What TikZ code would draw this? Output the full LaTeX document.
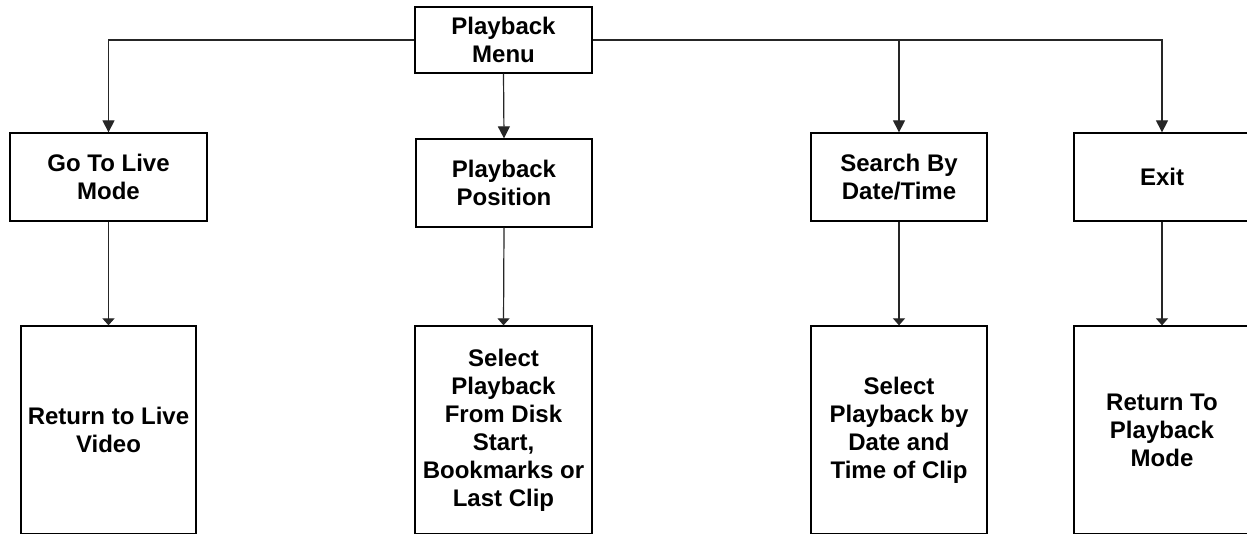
\documentclass[tikz,border=0pt]{standalone}
\usepackage{fontspec}
\setmainfont{Liberation Sans}
\usetikzlibrary{arrows.meta}
\begin{document}
\begin{tikzpicture}[x=1pt,y=-1pt,
  box/.style={draw=black, line width=1.3pt, inner sep=0pt, align=center,
    font=\bfseries\fontsize{24}{28}\selectfont},
  midbox/.style={box, minimum height=88pt},
  tallbox/.style={box, minimum height=208pt},
  conn/.style={line width=1.2pt, draw=black!85},
  bigarrow/.style={conn, -{Triangle[length=12pt,width=12pt]}},
  flatarrow/.style={conn, -{Triangle[length=7pt,width=12pt]}}]
\useasboundingbox (0,0) rectangle (1247,533);
\clip (0,0) rectangle (1247,533);
\fill[white] (0,0) rectangle (1247,533);

\node[box, minimum width=177pt, minimum height=66pt] (menu) at (503.5,40) {Playback\\Menu};

\node[midbox, minimum width=197pt] (live) at (108.5,177) {Go To Live\\Mode};
\node[midbox, minimum width=176pt] (pos) at (504,183) {Playback\\Position};
\node[midbox, minimum width=176pt] (search) at (899,177) {Search By\\Date/Time};
\node[midbox, minimum width=176pt] (exit) at (1162,177) {Exit};

\node[tallbox, minimum width=175pt] (ret) at (108.5,430) {Return to Live\\Video};
\node[tallbox, minimum width=177pt] (sel1) at (503.5,430) {Select\\Playback\\From Disk\\Start,\\Bookmarks or\\Last Clip};
\node[tallbox, minimum width=176pt] (sel2) at (899,430) {Select\\Playback by\\Date and\\Time of Clip};
\node[tallbox, minimum width=176pt] (back) at (1162,430) {Return To\\Playback\\Mode};

\draw[bigarrow] (menu.west) -| (live.north);
\draw[bigarrow] (menu.south) -- (pos.north);
\draw[bigarrow] (menu.east) -| (search.north);
\draw[bigarrow] (menu.east) -| (exit.north);

\draw[flatarrow] (live.south) -- (ret.north);
\draw[flatarrow] (pos.south) -- (sel1.north);
\draw[flatarrow] (search.south) -- (sel2.north);
\draw[flatarrow] (exit.south) -- (back.north);
\end{tikzpicture}
\end{document}
